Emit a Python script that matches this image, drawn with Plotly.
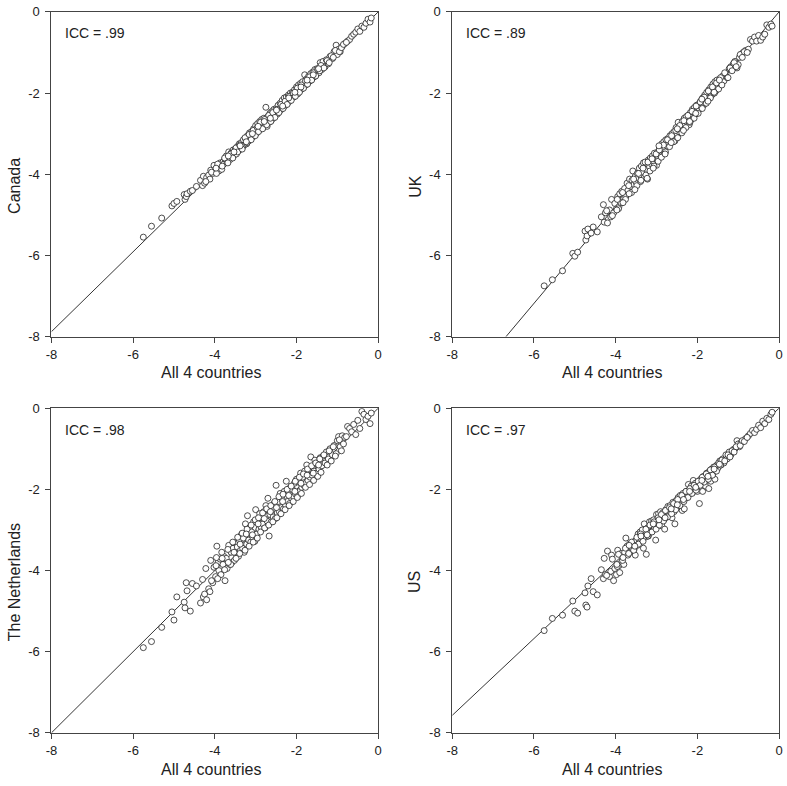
import plotly.graph_objects as go

# scores on "All 4 countries" (shared x for every panel)
all4 = [
    -5.75, -5.55, -5.30, -5.05, -5.00, -4.93, -4.75, -4.73, -4.70, -4.68,
    -4.60, -4.55, -4.45, -4.35, -4.30, -4.28, -4.25, -4.20, -4.15, -4.12,
    -4.10, -4.05, -4.02, -3.98, -3.95, -3.92, -3.90, -3.87, -3.85, -3.80,
    -3.78, -3.75, -3.72, -3.70, -3.66, -3.63, -3.60, -3.58, -3.55, -3.52,
    -3.50, -3.47, -3.45, -3.42, -3.40, -3.37, -3.35, -3.32, -3.30, -3.28,
    -3.25, -3.22, -3.20, -3.17, -3.15, -3.12, -3.10, -3.07, -3.05, -3.02,
    -3.00, -2.97, -2.95, -2.92, -2.90, -2.87, -2.85, -2.82, -2.80, -2.77,
    -2.75, -2.72, -2.70, -2.67, -2.65, -2.62, -2.60, -2.57, -2.55, -2.52,
    -2.50, -2.47, -2.45, -2.42, -2.40, -2.37, -2.35, -2.32, -2.30, -2.27,
    -2.25, -2.22, -2.20, -2.17, -2.15, -2.12, -2.10, -2.07, -2.05, -2.02,
    -2.00, -1.97, -1.95, -1.92, -1.90, -1.87, -1.85, -1.82, -1.80, -1.77,
    -1.75, -1.72, -1.70, -1.67, -1.65, -1.62, -1.60, -1.57, -1.55, -1.52,
    -1.50, -1.45, -1.42, -1.38, -1.35, -1.30, -1.27, -1.22, -1.18, -1.12,
    -1.08, -1.03, -1.00, -0.97, -0.93, -0.88, -0.82, -0.75, -0.70, -0.65,
    -0.60, -0.55, -0.50, -0.45, -0.40, -0.35, -0.30, -0.25, -0.20, -0.17,
    -4.22, -4.08, -3.96, -3.93, -3.83, -3.76, -3.68, -3.61, -3.56, -3.48,
    -3.44, -3.39, -3.33, -3.26, -3.21, -3.16, -3.11, -3.06, -3.01, -2.96,
    -2.93, -2.88, -2.83, -2.78, -2.73, -2.68, -2.63, -2.58, -2.53, -2.48,
    -2.43, -2.38, -2.33, -2.28, -2.23, -2.18, -2.13, -2.08, -2.03, -1.98,
    -1.93, -1.88, -1.83, -1.78, -1.73, -1.68, -1.63, -1.58, -1.53, -1.48,
    -1.43, -1.40, -1.33, -1.25, -1.20, -1.15, -1.10, -1.05, -0.95, -0.90,
    -3.97, -3.82, -3.67, -3.53, -3.38, -3.23, -3.08, -2.94, -2.79, -2.64,
    -2.49, -2.34, -2.19, -2.04, -1.89, -1.74, -1.59, -1.46, -0.85, -0.78,
]

canada = [
    -5.55, -5.28, -5.08, -4.78, -4.72, -4.67, -4.50, -4.62, -4.55, -4.48,
    -4.42, -4.40, -4.30, -4.15, -4.28, -4.05, -4.22, -4.08, -4.02, -4.12,
    -3.90, -3.98, -3.78, -3.95, -3.85, -3.80, -3.92, -3.72, -3.84, -3.70,
    -3.75, -3.62, -3.55, -3.70, -3.45, -3.64, -3.48, -3.58, -3.40, -3.52,
    -3.38, -3.50, -3.32, -3.42, -3.25, -3.38, -3.22, -3.33, -3.15, -3.28,
    -3.12, -3.25, -3.05, -3.18, -2.98, -3.12, -2.95, -3.08, -2.88, -3.02,
    -2.80, -2.98, -2.75, -2.92, -2.70, -2.88, -2.65, -2.85, -2.62, -2.78,
    -2.35, -2.82, -2.58, -2.72, -2.50, -2.68, -2.45, -2.62, -2.40, -2.55,
    -2.38, -2.52, -2.30, -2.45, -2.25, -2.40, -2.18, -2.35, -2.12, -2.30,
    -2.10, -2.25, -2.05, -2.20, -2.00, -2.12, -1.98, -2.10, -1.92, -2.05,
    -1.85, -2.02, -1.80, -1.95, -1.76, -1.90, -1.72, -1.85, -1.55, -1.80,
    -1.65, -1.75, -1.58, -1.70, -1.52, -1.65, -1.48, -1.60, -1.42, -1.55,
    -1.40, -1.50, -1.25, -1.42, -1.22, -1.35, -1.18, -1.28, -1.10, -1.15,
    -0.98, -0.82, -1.05, -0.92, -0.98, -0.85, -0.78, -0.72, -0.68, -0.60,
    -0.55, -0.50, -0.42, -0.48, -0.35, -0.38, -0.28, -0.18, -0.25, -0.15,
    -4.18, -3.95, -3.98, -3.75, -3.88, -3.60, -3.72, -3.50, -3.60, -3.35,
    -3.45, -3.28, -3.38, -3.10, -3.22, -3.02, -3.15, -2.92, -3.05, -2.85,
    -2.95, -2.72, -2.88, -2.65, -2.78, -2.55, -2.70, -2.48, -2.60, -2.40,
    -2.48, -2.28, -2.38, -2.20, -2.28, -2.08, -2.18, -2.00, -2.08, -1.88,
    -1.98, -1.80, -1.88, -1.70, -1.78, -1.60, -1.68, -1.50, -1.58, -1.42,
    -1.45, -1.32, -1.38, -1.20, -1.25, -1.08, -1.12, -0.95, -0.98, -0.88,
    -3.85, -3.80, -3.55, -3.45, -3.30, -3.20, -3.00, -2.82, -2.70, -2.62,
    -2.42, -2.32, -2.12, -1.98, -1.85, -1.68, -1.55, -1.40, -0.80, -0.75,
]

uk = [
    -6.75, -6.60, -6.38, -5.95, -6.02, -5.92, -5.40, -5.62, -5.52, -5.35,
    -5.45, -5.30, -5.42, -5.05, -4.75, -5.18, -4.95, -5.20, -4.88, -5.05,
    -4.62, -4.95, -4.72, -4.85, -4.55, -4.80, -4.48, -4.70, -4.42, -4.60,
    -4.35, -4.55, -4.22, -4.40, -4.12, -4.30, -4.15, -3.92, -4.25, -4.05,
    -4.20, -3.98, -4.10, -3.85, -4.02, -3.80, -3.95, -3.72, -4.08, -3.70,
    -3.88, -4.12, -3.65, -3.82, -3.60, -3.75, -3.55, -3.68, -3.48, -3.62,
    -3.78, -3.45, -3.60, -3.35, -3.55, -3.25, -3.40, -3.20, -3.38, -3.15,
    -3.30, -3.12, -3.25, -3.05, -3.22, -3.00, -3.15, -2.95, -3.18, -2.85,
    -3.05, -2.72, -2.95, -2.82, -2.90, -2.70, -2.85, -2.62, -2.80, -2.58,
    -2.72, -2.55, -2.78, -2.48, -2.65, -2.40, -2.58, -2.35, -2.52, -2.30,
    -2.45, -2.28, -2.40, -2.20, -2.35, -2.12, -2.30, -2.05, -2.25, -1.98,
    -2.18, -1.92, -2.10, -1.85, -2.05, -1.78, -2.00, -1.72, -1.95, -1.68,
    -1.85, -1.65, -1.78, -1.58, -1.70, -1.52, -1.62, -1.40, -1.35, -1.28,
    -1.22, -1.38, -1.30, -1.12, -1.05, -1.00, -0.95, -0.92, -0.68, -0.72,
    -0.62, -0.72, -0.58, -0.70, -0.62, -0.55, -0.32, -0.38, -0.30, -0.35,
    -4.90, -5.02, -4.62, -4.85, -4.45, -4.62, -4.28, -4.45, -4.12, -4.28,
    -3.98, -4.18, -3.85, -4.02, -3.70, -3.92, -3.62, -3.80, -3.50, -3.68,
    -3.40, -3.58, -3.28, -3.45, -3.15, -3.32, -3.05, -3.20, -2.92, -3.10,
    -2.80, -2.98, -2.68, -2.85, -2.55, -2.72, -2.45, -2.62, -2.32, -2.50,
    -2.22, -2.38, -2.10, -2.25, -1.95, -2.12, -1.85, -2.00, -1.75, -1.90,
    -1.62, -1.80, -1.50, -1.62, -1.38, -1.45, -1.25, -1.35, -1.05, -1.12,
    -4.88, -4.70, -4.48, -4.38, -4.15, -4.10, -3.85, -3.30, -3.50, -3.22,
    -2.88, -2.92, -2.70, -2.50, -2.15, -2.20, -1.98, -1.68, -0.98, -1.00,
]

netherlands = [
    -5.90, -5.75, -5.40, -5.02, -5.22, -4.65, -4.78, -4.92, -4.30, -4.50,
    -5.00, -4.32, -4.38, -4.80, -4.22, -4.65, -4.58, -4.72, -4.45, -4.52,
    -3.75, -4.30, -3.92, -4.15, -3.40, -3.80, -4.00, -3.72, -4.10, -3.85,
    -3.65, -4.25, -3.70, -3.95, -3.38, -3.85, -3.55, -3.80, -3.45, -3.75,
    -3.32, -3.60, -3.42, -3.65, -3.25, -3.50, -3.12, -3.45, -3.20, -3.55,
    -2.85, -3.35, -2.65, -3.25, -2.95, -3.30, -3.05, -3.18, -2.80, -3.28,
    -2.50, -3.10, -2.75, -2.98, -2.60, -2.92, -2.70, -2.85, -2.55, -2.95,
    -2.40, -2.78, -2.22, -3.15, -2.62, -2.80, -2.45, -2.68, -2.35, -2.72,
    -1.90, -2.58, -2.30, -2.55, -2.10, -2.45, -2.25, -2.48, -2.05, -2.38,
    -1.80, -2.30, -2.05, -2.35, -1.95, -2.22, -2.00, -2.18, -1.85, -2.12,
    -1.75, -2.15, -1.82, -2.05, -1.60, -1.95, -1.70, -1.90, -1.55, -1.85,
    -1.40, -1.78, -1.52, -1.70, -1.20, -1.65, -1.45, -1.55, -1.28, -1.60,
    -1.35, -1.50, -1.22, -1.42, -1.18, -1.35, -1.08, -1.25, -1.00, -1.15,
    -0.92, -1.12, -0.80, -0.70, -0.95, -0.68, -0.72, -0.45, -0.50, -0.58,
    -0.40, -0.65, -0.30, -0.50, -0.08, -0.15, -0.28, -0.20, -0.38, -0.12,
    -3.95, -4.25, -3.68, -4.20, -3.55, -3.98, -3.48, -3.85, -3.30, -3.70,
    -3.18, -3.58, -3.08, -3.50, -2.98, -3.40, -2.88, -3.30, -2.75, -3.20,
    -2.70, -3.05, -2.58, -2.95, -2.48, -2.88, -2.40, -2.80, -2.30, -2.70,
    -2.18, -2.60, -2.12, -2.50, -2.00, -2.40, -1.92, -2.30, -1.80, -2.20,
    -1.70, -2.10, -1.62, -1.95, -1.50, -1.88, -1.42, -1.78, -1.35, -1.68,
    -1.25, -1.58, -1.15, -1.40, -1.05, -1.30, -0.95, -1.18, -0.78, -1.05,
    -3.88, -3.70, -3.80, -3.55, -3.35, -3.10, -3.12, -2.85, -2.72, -2.55,
    -2.45, -2.30, -2.15, -2.05, -1.85, -1.65, -1.60, -1.40, -0.88, -0.70,
]

us = [
    -5.48, -5.18, -5.10, -4.75, -5.00, -5.05, -4.55, -4.85, -4.90, -4.38,
    -4.20, -4.52, -4.60, -3.98, -4.20, -3.70, -4.10, -3.52, -4.15, -4.02,
    -3.62, -4.25, -3.95, -4.10, -3.50, -3.88, -4.05, -3.58, -3.78, -3.85,
    -3.55, -3.20, -3.40, -3.62, -3.35, -3.52, -3.45, -3.30, -3.48, -3.62,
    -3.25, -3.38, -3.10, -3.30, -3.05, -3.22, -3.00, -3.45, -2.85, -3.18,
    -3.60, -2.95, -3.15, -2.80, -3.05, -2.78, -3.02, -2.75, -2.95, -3.25,
    -2.62, -2.88, -2.60, -2.82, -2.55, -2.90, -2.58, -2.75, -2.98, -2.50,
    -2.68, -2.42, -2.62, -2.40, -2.58, -2.70, -2.32, -2.55, -2.85, -2.28,
    -2.45, -2.20, -2.38, -2.15, -2.30, -2.52, -2.10, -2.48, -2.22, -2.05,
    -2.18, -1.88, -2.12, -2.00, -1.92, -2.08, -1.78, -2.02, -1.85, -1.95,
    -2.05, -1.82, -2.35, -1.75, -1.88, -2.05, -1.68, -1.80, -1.92, -1.60,
    -1.72, -1.98, -1.55, -1.80, -1.50, -1.62, -1.45, -1.75, -1.52, -1.40,
    -1.48, -1.30, -1.40, -1.25, -1.35, -1.15, -1.25, -1.08, -1.15, -1.02,
    -1.00, -0.80, -0.88, -0.95, -0.85, -0.82, -0.75, -0.68, -0.62, -0.55,
    -0.60, -0.52, -0.42, -0.48, -0.32, -0.38, -0.25, -0.28, -0.15, -0.10,
    -4.12, -3.72, -3.90, -3.60, -3.75, -3.45, -3.58, -3.30, -3.50, -3.18,
    -3.35, -3.10, -3.28, -2.98, -3.15, -2.88, -3.05, -2.80, -2.98, -2.70,
    -2.88, -2.62, -2.78, -2.52, -2.68, -2.45, -2.60, -2.35, -2.50, -2.25,
    -2.40, -2.15, -2.30, -2.05, -2.20, -1.98, -2.10, -1.90, -2.02, -1.80,
    -1.90, -1.70, -1.82, -1.62, -1.75, -1.52, -1.65, -1.45, -1.55, -1.35,
    -1.40, -1.28, -1.30, -1.15, -1.20, -1.05, -1.08, -0.95, -0.92, -0.80,
    -3.85, -3.68, -3.38, -3.40, -3.15, -3.12, -2.85, -2.75, -2.70, -2.48,
    -2.38, -2.25, -2.05, -1.95, -1.78, -1.68, -1.50, -1.38, -0.82, -0.72,
]

countries = ["Canada", "UK", "The Netherlands", "US"]
icc_text = ["ICC = .99", "ICC = .89", "ICC = .98", "ICC = .97"]
fit_slopes = [0.985, 1.197, 1.0, 0.946]
ticks = [-8, -6, -4, -2, 0]
tick_labels = ["-8", "-6", "-4", "-2", "0"]

W, H = 787, 786
lefts = [46, 452, 46, 452]
tops = [5, 5, 409, 409]
size = 331
font = "Liberation Sans, Arial, sans-serif"
txt = "#222"

fig = go.Figure()
series = [canada, uk, netherlands, us]

for i in range(4):
    xa = "x" if i == 0 else "x%d" % (i + 1)
    ya = "y" if i == 0 else "y%d" % (i + 1)
    line_x = [ticks[0], ticks[-1]]
    fig.add_trace(go.Scatter(
        x=line_x, y=[fit_slopes[i] * v for v in line_x],
        mode="lines", line=dict(color="black", width=0.8),
        xaxis=xa, yaxis=ya, showlegend=False, hoverinfo="skip"))
    fig.add_trace(go.Scatter(
        x=all4, y=series[i], mode="markers",
        marker=dict(symbol="circle", size=6, color="white",
                    line=dict(color="#222", width=0.8)),
        xaxis=xa, yaxis=ya, showlegend=False))

    l, t = lefts[i], tops[i]
    axis_common = dict(range=[-8, 0], tickvals=ticks, ticktext=tick_labels,
                       ticks="outside", ticklen=5, tickcolor="#444",
                       showline=True, linecolor="#444", linewidth=1,
                       mirror=True, showgrid=False, zeroline=False,
                       ticklabeloverflow="allow",
                       tickfont=dict(family=font, size=13, color=txt))
    fig.layout["xaxis" if i == 0 else "xaxis%d" % (i + 1)] = dict(
        axis_common, ticklabelstandoff=1,
        domain=[l / W, (l + size) / W], anchor=ya)
    fig.layout["yaxis" if i == 0 else "yaxis%d" % (i + 1)] = dict(
        axis_common, ticklabelstandoff=3,
        domain=[1 - (t + size) / H, 1 - t / H], anchor=xa)

    fig.add_annotation(text=icc_text[i], xref="paper", yref="paper",
                       x=(l + 12) / W, y=1 - (t + 22) / H, xanchor="left", yanchor="middle",
                       showarrow=False, font=dict(family=font, size=14, color=txt))
    fig.add_annotation(text=countries[i], xref="paper", yref="paper", textangle=-90,
                       x=(l - 38) / W, y=1 - (t + size / 2 + 12) / H,
                       xanchor="center", yanchor="middle",
                       showarrow=False, font=dict(family=font, size=16, color=txt))
    fig.add_annotation(text="All 4 countries", xref="paper", yref="paper",
                       x=(l + size / 2 - 3) / W, y=1 - (t + size + 37) / H,
                       xanchor="center", yanchor="middle",
                       showarrow=False, font=dict(family=font, size=16, color=txt))

fig.update_layout(width=W, height=H, margin=dict(l=0, r=0, t=0, b=0),
                  plot_bgcolor="white", paper_bgcolor="white")

# drop the browser's default body margin so the figure fills the window
fig.write_html("out.html", config={"displayModeBar": False},
               post_script="document.body.style.margin = '0';")
